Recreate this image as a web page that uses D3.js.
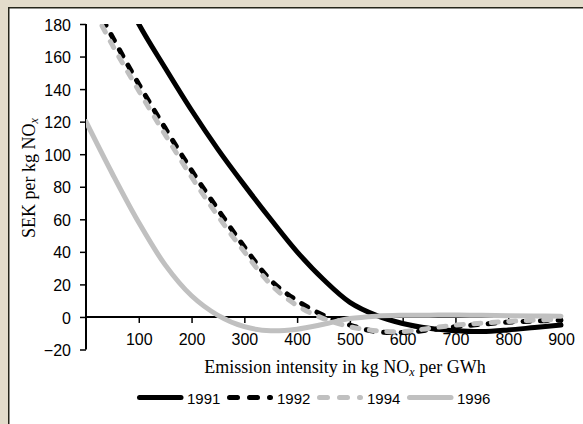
<!DOCTYPE html>
<html>
<head>
<meta charset="utf-8">
<script src="https://cdn.jsdelivr.net/npm/d3@7"></script>
<style>
  html, body { margin: 0; padding: 0; background: #ffffff; }
  svg { display: block; }
</style>
</head>
<body>
<script>
// Emission intensity (kg NOx per GWh) at which each curve is sampled
const intensity = [0, 50, 100, 150, 200, 250, 300, 350, 400, 450, 500, 550, 600, 650, 700, 750, 800, 850, 900];

// SEK per kg NOx, one array per year
const sek1991 = [250, 213, 180, 153, 127, 103, 81, 60, 40, 23, 9, 1, -4, -7, -8.5, -9, -8, -6.5, -5];
const sek1992 = [202, 172, 143, 116, 90, 66, 43, 22.5, 10, 1, -5, -9, -9.5, -8, -6, -4.5, -3.2, -2.5, -2];
const sek1994 = [198, 167, 139, 112, 86, 62, 40, 20, 7, -1, -6, -8.5, -9, -7, -5, -3.8, -2.8, -2, -1.5];
const sek1996 = [120, 88, 58, 32, 13, 1, -6, -8.5, -7.5, -4.5, -1, 0.5, 1, 1.1, 1.2, 1, 0.8, 0.6, 0.5];

const years = ["1991", "1992", "1994", "1996"];
const xTicks = [100, 200, 300, 400, 500, 600, 700, 800, 900];
const yTicks = [-20, 0, 20, 40, 60, 80, 100, 120, 140, 160, 180];

const seriesList = [
  { name: years[0], values: sek1991, color: "#000000", dash: null },
  { name: years[1], values: sek1992, color: "#000000", dash: "7 10.5" },
  { name: years[2], values: sek1994, color: "#c0c0c0", dash: "7 10.5" },
  { name: years[3], values: sek1996, color: "#c0c0c0", dash: null }
];

const W = 583, H = 424;
const svg = d3.select("body").append("svg").attr("width", W).attr("height", H);

// page frame
svg.append("rect").attr("x", 0).attr("y", 0).attr("width", W).attr("height", H).attr("fill", "#e3dccb");
svg.append("rect").attr("x", 8).attr("y", 7).attr("width", W - 8).attr("height", H - 7).attr("fill", "#ffffff");
svg.append("path").attr("d", `M8.75,${H} V7.75 H${W}`).attr("fill", "none").attr("stroke", "#25251a").attr("stroke-width", 1.5);

const x = d3.scaleLinear().domain([0, 900]).range([86, 561]);
const y = d3.scaleLinear().domain([-20, 180]).range([349.5, 24]);

const tickFont = "'Liberation Sans', Arial, sans-serif";
const titleFont = "'Liberation Serif', 'Times New Roman', serif";

// y axis
const yAxis = svg.append("g").attr("transform", `translate(${x(0)},0)`)
  .call(d3.axisLeft(y).tickValues(yTicks).tickSize(6).tickPadding(9).tickFormat(d3.format("d")));
yAxis.select(".domain").attr("stroke", "#000").attr("stroke-width", 2).attr("d", `M0,${y(-20)}V${y(180)}`);
yAxis.selectAll(".tick line").attr("stroke", "#000").attr("stroke-width", 1.5);
yAxis.selectAll(".tick text").attr("font-family", tickFont).attr("font-size", 16).attr("fill", "#000").attr("dy", "0.38em");

// x axis crossing at zero
const xAxis = svg.append("g").attr("transform", `translate(0,${y(0)})`)
  .call(d3.axisBottom(x).tickValues(xTicks).tickSize(6).tickPadding(9).tickFormat(d3.format("d")));
xAxis.select(".domain").attr("stroke", "#000").attr("stroke-width", 2).attr("d", `M${x(0)},0H563`);
xAxis.selectAll(".tick line").attr("stroke", "#000").attr("stroke-width", 1.5);
xAxis.selectAll(".tick text").attr("font-family", tickFont).attr("font-size", 16).attr("fill", "#000")
  .attr("y", 28).attr("dy", 0);

// plot clip
svg.append("clipPath").attr("id", "plotClip").append("rect")
  .attr("x", x(0)).attr("y", y(180)).attr("width", 490).attr("height", 340);

const line = d3.line()
  .x((d, i) => x(intensity[i]))
  .y(d => y(d))
  .curve(d3.curveCatmullRom.alpha(0.5));

const plot = svg.append("g").attr("clip-path", "url(#plotClip)");
seriesList.forEach(s => {
  plot.append("path")
    .attr("d", line(s.values))
    .attr("fill", "none")
    .attr("stroke", s.color)
    .attr("stroke-width", 5)
    .attr("stroke-linecap", "round")
    .attr("stroke-dasharray", s.dash);
});

// axis titles
const xt = svg.append("text").attr("x", 345).attr("y", 373).attr("text-anchor", "middle")
  .attr("font-family", titleFont).attr("font-size", 18).attr("fill", "#000");
xt.append("tspan").text("Emission intensity in kg NO");
xt.append("tspan").attr("font-style", "italic").attr("font-size", 12).attr("dy", 3).text("x");
xt.append("tspan").attr("dy", -3).text(" per GWh");

const yt = svg.append("text").attr("transform", "translate(35,178) rotate(-90)").attr("text-anchor", "middle")
  .attr("font-family", titleFont).attr("font-size", 18).attr("fill", "#000");
yt.append("tspan").text("SEK per kg NO");
yt.append("tspan").attr("font-style", "italic").attr("font-size", 12).attr("dy", 3).text("x");

// legend
const legend = svg.append("g").attr("transform", "translate(137,397.5)");
seriesList.forEach((s, i) => {
  const g = legend.append("g").attr("transform", `translate(${i * 90},0)`);
  g.append("line").attr("x1", 2.5).attr("x2", s.dash ? 43.5 : 44).attr("y1", 0).attr("y2", 0)
    .attr("stroke", s.color).attr("stroke-width", 5).attr("stroke-linecap", "round")
    .attr("stroke-dasharray", s.dash ? "8 12" : null);
  g.append("text").attr("x", 50).attr("y", 6).attr("font-family", tickFont).attr("font-size", 15)
    .attr("fill", "#000").text(s.name);
});
</script>
</body>
</html>
